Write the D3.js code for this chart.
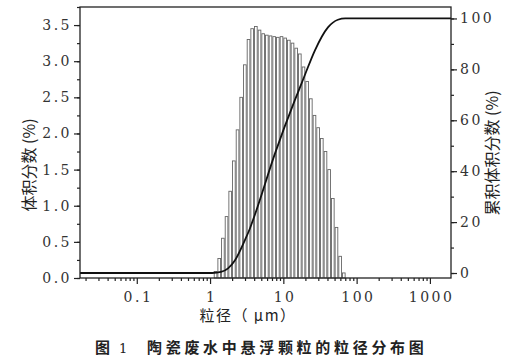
<!DOCTYPE html>
<html>
<head>
<meta charset="utf-8">
<script src="https://cdn.jsdelivr.net/npm/d3@7"></script>
<style>
  body { margin: 0; background: #fff; }
  svg { display: block; }
  .num { font-family: "DejaVu Serif", serif; font-size: 14px; fill: #333; letter-spacing: 2.5px; }
  .cjk { font-family: "Noto Sans CJK SC", sans-serif; fill: #222; }
</style>
</head>
<body>
<div class="chart"></div>
<script>
// bin edges (um) and volume fraction (%) per bin
var binEdges = [1.122, 1.259, 1.413, 1.585, 1.778, 1.995, 2.239, 2.512, 2.818, 3.162,
                3.548, 3.981, 4.467, 5.012, 5.623, 6.310, 7.079, 7.943, 8.913, 10.00,
                11.22, 12.59, 14.13, 15.85, 17.78, 19.95, 22.39, 25.12, 28.18, 31.62,
                35.48, 39.81, 44.67, 50.12, 56.23, 63.10, 70.79];
var volumePct = [0.09, 0.27, 0.55, 0.85, 1.20, 1.62, 2.05, 2.50, 2.95, 3.30,
                 3.45, 3.48, 3.43, 3.38, 3.36, 3.35, 3.34, 3.33, 3.34, 3.32,
                 3.29, 3.25, 3.18, 3.10, 2.92, 2.72, 2.48, 2.25, 2.08, 1.93,
                 1.75, 1.50, 1.10, 0.70, 0.30, 0.07];

// cumulative curve
var cumDiameter = [0.0168, 1.07, 1.41, 1.76, 2.19, 3.0, 3.5, 4.1, 7.7, 14.4, 16.9, 19.8, 27, 40.6, 55.5, 70, 1940];
var cumPct = [0, 0, 0.4, 1.8, 5, 13, 17.5, 23, 47, 68, 73, 78, 87.5, 96.5, 99.5, 100, 100];

var xTicks = [0.1, 1, 10, 100, 1000];
var xTickLabels = ["0.1", "1", "10", "100", "1000"];
var yLeftTicks = [0, 0.5, 1.0, 1.5, 2.0, 2.5, 3.0, 3.5];
var yRightTicks = [0, 20, 40, 60, 80, 100];

var W = 526, H = 361;
var plot = { left: 80, right: 451, top: 7, bottom: 278 };

var svg = d3.select(".chart").append("svg").attr("width", W).attr("height", H);

var x = d3.scaleLog().domain([0.0168, 1940]).range([plot.left, plot.right]);
var yL = d3.scaleLinear().domain([0, 3.75]).range([plot.bottom, plot.top]);
var yR = d3.scaleLinear().domain([-1.96, 104.5]).range([plot.bottom, plot.top]);

// bars
svg.append("g").selectAll("rect")
  .data(volumePct)
  .enter().append("rect")
  .attr("x", function(d, i) { return x(binEdges[i]) + 0.5; })
  .attr("width", function(d, i) { return Math.max(0.5, x(binEdges[i + 1]) - x(binEdges[i]) - 1); })
  .attr("y", function(d) { return yL(d); })
  .attr("height", function(d) { return yL(0) - yL(d); })
  .attr("fill", "#fff")
  .attr("stroke", "#666")
  .attr("stroke-width", 0.9);

// cumulative line
var line = d3.line()
  .x(function(d, i) { return x(cumDiameter[i]); })
  .y(function(d) { return yR(d); })
  .curve(d3.curveMonotoneX);

svg.append("path")
  .datum(cumPct)
  .attr("d", line)
  .attr("fill", "none")
  .attr("stroke", "#111")
  .attr("stroke-width", 1.8);

// frame
svg.append("rect")
  .attr("x", plot.left).attr("y", plot.top)
  .attr("width", plot.right - plot.left).attr("height", plot.bottom - plot.top)
  .attr("fill", "none").attr("stroke", "#222").attr("stroke-width", 1.3);

function styleAxis(g) {
  g.select(".domain").remove();
  g.selectAll(".tick line").attr("stroke", "#222").attr("stroke-width", 1.2);
}

// left axis
var minorL = d3.range(0, 3.76, 0.25);
svg.append("g").attr("transform", "translate(" + plot.left + ",0)")
  .call(d3.axisLeft(yL).tickValues(minorL).tickSize(3).tickFormat(""))
  .call(styleAxis);
svg.append("g").attr("transform", "translate(" + plot.left + ",0)")
  .call(d3.axisLeft(yL).tickValues(yLeftTicks).tickSize(6).tickPadding(2).tickFormat(d3.format(".1f")))
  .call(styleAxis)
  .selectAll("text").attr("class", "num").attr("font-size", null).attr("font-family", null);

// right axis
var minorR = d3.range(0, 101, 10);
svg.append("g").attr("transform", "translate(" + plot.right + ",0)")
  .call(d3.axisRight(yR).tickValues(minorR).tickSize(3).tickFormat(""))
  .call(styleAxis);
svg.append("g").attr("transform", "translate(" + plot.right + ",0)")
  .call(d3.axisRight(yR).tickValues(yRightTicks).tickSize(6).tickPadding(3).tickFormat(d3.format("d")))
  .call(styleAxis)
  .selectAll("text").attr("class", "num").attr("font-size", null).attr("font-family", null);

// bottom axis
var minorX = [];
[0.01, 0.1, 1, 10, 100, 1000].forEach(function(dec) {
  for (var k = 2; k <= 9; k++) {
    var v = dec * k;
    if (v > x.domain()[0] && v < x.domain()[1]) minorX.push(v);
  }
});
svg.append("g").attr("transform", "translate(0," + plot.bottom + ")")
  .call(d3.axisBottom(x).tickValues(minorX).tickSize(3).tickFormat(""))
  .call(styleAxis);
svg.append("g").attr("transform", "translate(0," + plot.bottom + ")")
  .call(d3.axisBottom(x).tickValues(xTicks).tickSize(6).tickPadding(8)
        .tickFormat(function(d, i) { return xTickLabels[i]; }))
  .call(styleAxis)
  .selectAll("text").attr("class", "num").attr("font-size", null).attr("font-family", null)
  .attr("dx", "1.2px");

// axis titles
svg.append("text").attr("class", "cjk")
  .attr("x", 248).attr("y", 321)
  .attr("text-anchor", "middle").attr("font-size", 15).attr("letter-spacing", "1.5px")
  .text("粒径（ μm）");

svg.append("text").attr("class", "cjk")
  .attr("transform", "translate(35,165) rotate(-90)")
  .attr("text-anchor", "middle").attr("font-size", 16)
  .text("体积分数 (%)");

svg.append("text").attr("class", "cjk")
  .attr("transform", "translate(498,153) rotate(-90)")
  .attr("text-anchor", "middle").attr("font-size", 16)
  .text("累积体积分数 (%)");

// caption
var cap = svg.append("text").attr("class", "cjk").attr("y", 353).attr("font-size", 15);
cap.append("tspan").attr("x", 95).attr("font-weight", "bold").text("图");
cap.append("tspan").attr("x", 119).attr("font-family", "DejaVu Serif").attr("font-size", 13).text("1");
cap.append("tspan").attr("x", 147).attr("font-weight", "bold").attr("letter-spacing", "3.7px")
  .text("陶瓷废水中悬浮颗粒的粒径分布图");
</script>
</body>
</html>
